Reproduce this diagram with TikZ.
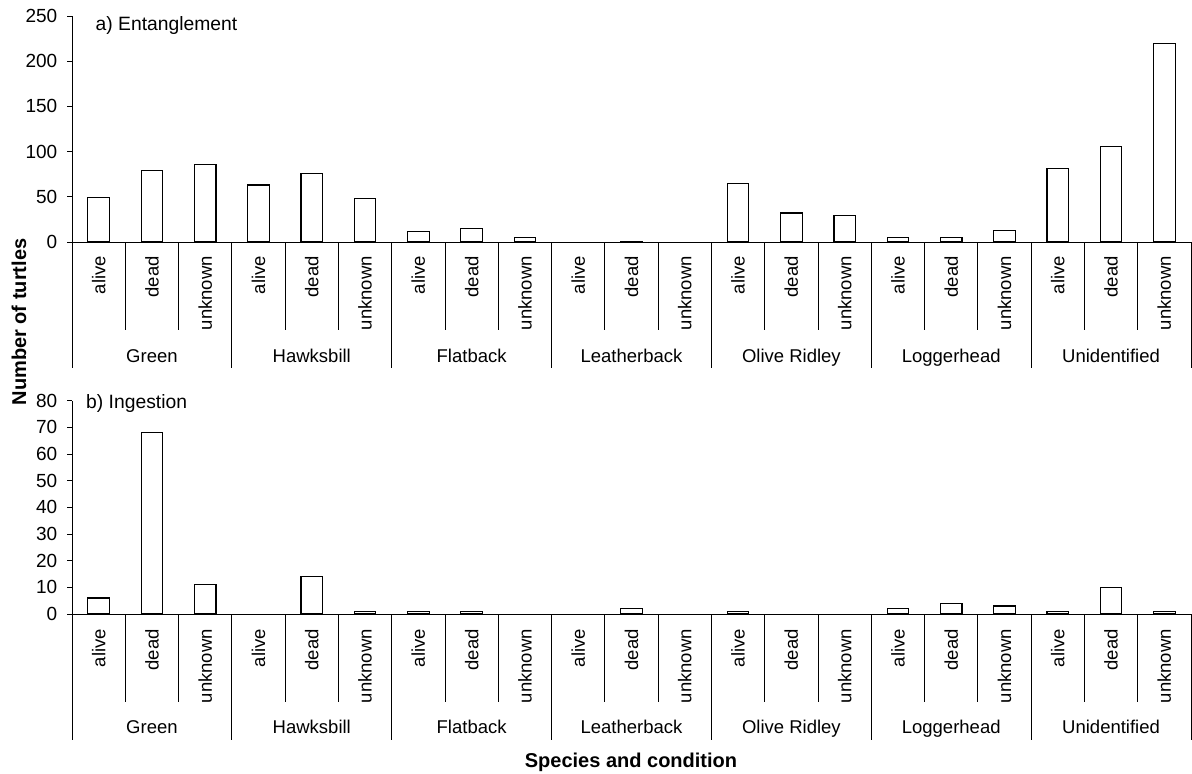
\documentclass[tikz,border=0pt]{standalone}
\usepackage{fontspec}
\setmainfont{Liberation Sans}
\begin{document}
\begin{tikzpicture}[x=1pt,y=-1pt,
  every node/.style={inner sep=0pt, font=\fontsize{18.5}{22}\selectfont},
  ticklab/.style={anchor=east, font=\fontsize{19}{22}\selectfont},
  grouplab/.style={anchor=base},
  condlab/.style={rotate=90, anchor=east},
  titlelab/.style={anchor=west, font=\fontsize{19.3}{23}\selectfont},
  bar/.style={draw=black, fill=white, line width=1.2pt},
  axisline/.style={line width=0.9pt, black},
  boldlab/.style={font=\fontsize{20}{24}\selectfont\bfseries}]
\useasboundingbox (0,0) rectangle (1192,774);
\def\xo{72}
\def\cw{53.286}
% ---------------- panel a ----------------
\def\ya{242}
\def\sa{0.904}
\draw[axisline] (\xo,16) -- (\xo,368);
\draw[axisline] (\xo,\ya) -- (1191,\ya);
\foreach \t in {0,50,...,250}{
  \draw[axisline] (67,{\ya-\t*\sa}) -- (\xo,{\ya-\t*\sa});
  \node[ticklab] (ta\t) at (57.5,{\ya-\t*\sa}) {\t};
}
\foreach \v [count=\i from 0] in {49,79,86,63,76,48,12,15,5,0,1,0,65,32,29,5,5,13,81,106,220}{
  \ifnum\v>0
    \draw[bar] ({\xo+(\i+0.5)*\cw-10.75},\ya) rectangle ++(21.5,{-\v*\sa});
  \fi
}
\foreach \i in {1,...,21}{
  \pgfmathtruncatemacro{\m}{mod(\i,3)}
  \ifnum\m=0
    \draw[axisline] ({\xo+\i*\cw},\ya) -- ({\xo+\i*\cw},368);
  \else
    \draw[axisline] ({\xo+\i*\cw},\ya) -- ({\xo+\i*\cw},330);
  \fi
}
\foreach \g in {0,...,6}{
  \foreach \c [count=\j from 0] in {alive,dead,unknown}{
    \node[condlab] (ca-\g-\j) at ({\xo+(3*\g+\j+0.5)*\cw},{\ya+14}) {\c};
  }
}
\foreach \s [count=\g from 0] in {Green,Hawksbill,Flatback,Leatherback,Olive Ridley,Loggerhead,Unidentified}{
  \node[grouplab] (ga-\g) at ({\xo+(3*\g+1.5)*\cw},362) {\s};
}
\node[titlelab] (tita) at (95.5,25.5) {a) Entanglement};
% ---------------- panel b ----------------
\def\yb{614}
\def\sb{2.667}
\draw[axisline] (\xo,401) -- (\xo,740);
\draw[axisline] (\xo,\yb) -- (1191,\yb);
\foreach \t in {0,10,...,80}{
  \draw[axisline] (67,{\yb-\t*\sb}) -- (\xo,{\yb-\t*\sb});
  \node[ticklab] (tb\t) at (57.5,{\yb-\t*\sb}) {\t};
}
\foreach \v [count=\i from 0] in {6,68,11,0,14,1,1,1,0,0,2,0,1,0,0,2,4,3,1,10,1}{
  \ifnum\v>0
    \draw[bar] ({\xo+(\i+0.5)*\cw-10.75},\yb) rectangle ++(21.5,{-\v*\sb});
  \fi
}
\foreach \i in {1,...,21}{
  \pgfmathtruncatemacro{\m}{mod(\i,3)}
  \ifnum\m=0
    \draw[axisline] ({\xo+\i*\cw},\yb) -- ({\xo+\i*\cw},740);
  \else
    \draw[axisline] ({\xo+\i*\cw},\yb) -- ({\xo+\i*\cw},702);
  \fi
}
\foreach \g in {0,...,6}{
  \foreach \c [count=\j from 0] in {alive,dead,unknown}{
    \node[condlab] (cb-\g-\j) at ({\xo+(3*\g+\j+0.5)*\cw},{\yb+15}) {\c};
  }
}
\foreach \s [count=\g from 0] in {Green,Hawksbill,Flatback,Leatherback,Olive Ridley,Loggerhead,Unidentified}{
  \node[grouplab] (gb-\g) at ({\xo+(3*\g+1.5)*\cw},733.5) {\s};
}
\node[titlelab] (titb) at (86,404) {b) Ingestion};
% ---------------- axis titles ----------------
\node[boldlab, rotate=90] (ylab) at (19,322) {Number of turtles};
\node[boldlab] (xlab) at (631,762) {Species and condition};
\end{tikzpicture}
\end{document}
